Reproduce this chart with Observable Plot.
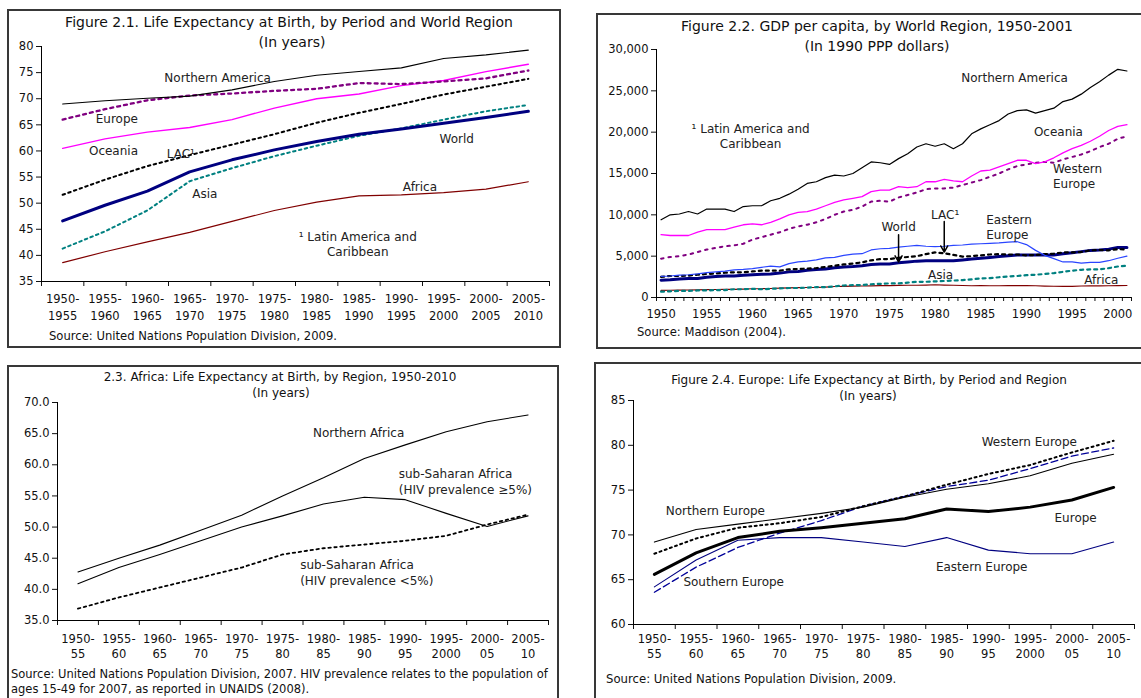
<!DOCTYPE html>
<html><head><meta charset="utf-8">
<script src="https://cdn.jsdelivr.net/npm/d3@7"></script>
<script src="https://cdn.jsdelivr.net/npm/@observablehq/plot@0.6"></script>
<style>
body{margin:0;background:#fff;}
#root{position:relative;width:1141px;height:698px;overflow:hidden;font-family:"DejaVu Sans",Verdana,sans-serif;color:#111;}
.panel{position:absolute;border:2px solid #383838;box-sizing:border-box;}
.t{position:absolute;white-space:pre;line-height:1.3;z-index:2;}
.plot{position:absolute;z-index:1;}
</style></head>
<body><div id="root"></div>
<script>
// ---------- DATA ----------
const periodsLong = ["1950-\n1955","1955-\n1960","1960-\n1965","1965-\n1970","1970-\n1975","1975-\n1980","1980-\n1985","1985-\n1990","1990-\n1995","1995-\n2000","2000-\n2005","2005-\n2010"];
const periodsShort = ["1950-\n55","1955-\n60","1960-\n65","1965-\n70","1970-\n75","1975-\n80","1980-\n85","1985-\n90","1990-\n95","1995-\n2000","2000-\n05","2005-\n10"];

// Figure 2.1 life expectancy (years)
const le_northernAmerica = [69.0,69.6,70.1,70.5,71.7,73.3,74.5,75.2,75.9,77.7,78.4,79.3];
const le_europe         = [66.0,68.0,69.7,70.6,71.0,71.5,71.9,73.0,72.8,73.3,73.9,75.4];
const le_oceania        = [60.5,62.3,63.6,64.5,66.0,68.2,70.0,70.9,72.5,73.5,75.2,76.6];
const le_lac            = [51.6,54.5,57.1,59.2,61.2,63.2,65.4,67.3,69.0,70.8,72.3,73.8];
const le_world          = [46.6,49.6,52.3,56.0,58.3,60.2,61.8,63.2,64.2,65.3,66.4,67.6];
const le_asia           = [41.3,44.6,48.6,54.2,56.7,59.0,61.0,62.9,64.3,66.0,67.6,68.8];
const le_africa         = [38.6,40.7,42.6,44.4,46.5,48.6,50.2,51.4,51.6,52.0,52.7,54.1];

// Figure 2.2 GDP per capita (1990 PPP dollars)
const years = [1950,1951,1952,1953,1954,1955,1956,1957,1958,1959,1960,1961,1962,1963,1964,1965,1966,1967,1968,1969,1970,1971,1972,1973,1974,1975,1976,1977,1978,1979,1980,1981,1982,1983,1984,1985,1986,1987,1988,1989,1990,1991,1992,1993,1994,1995,1996,1997,1998,1999,2000,2001];
const yearLabels = [1950,1955,1960,1965,1970,1975,1980,1985,1990,1995,2000];
const gdp_northernAmerica = [9400,10000,10100,10400,10100,10700,10700,10700,10400,11000, 11100,11100,11700,12000,12500,13100,13800,14000,14500,14800, 14700,15000,15700,16400,16300,16100,16800,17400,18200,18600, 18300,18600,18000,18600,19800,20400,20900,21400,22200,22600, 22700,22300,22600,22900,23700,24000,24600,25400,26100,26900, 27600,27400];
const gdp_oceania = [7600,7500,7500,7500,7900,8200,8200,8200,8500,8800, 8900,8800,9100,9500,10000,10300,10400,10700,11100,11500, 11800,12000,12200,12800,13000,13000,13400,13300,13400,14000, 14000,14300,14100,14000,14700,15300,15400,15800,16200,16600, 16600,16200,16400,16900,17500,18000,18400,18900,19500,20200, 20700,20900];
const gdp_westernEurope = [4700,4900,5000,5200,5500,5800,6000,6200,6300,6500, 7000,7300,7600,7900,8300,8600,8800,9100,9500,10000, 10400,10600,11000,11600,11700,11600,12100,12400,12700,13100, 13200,13200,13300,13600,13900,14200,14600,15000,15500,15900, 16100,16300,16400,16300,16700,17000,17300,17700,18200,18600, 19200,19500];
const gdp_easternEurope = [2550,2600,2700,2750,2850,3000,3100,3200,3350,3400, 3500,3650,3800,3700,4100,4300,4400,4550,4800,4850, 5100,5250,5300,5750,5900,5950,6100,6200,6300,6200, 6150,6200,6300,6350,6450,6500,6550,6600,6700,6750, 6400,5700,5100,4700,4300,4300,4150,4250,4250,4450, 4750,5000];
const gdp_world = [2100,2150,2250,2300,2300,2450,2550,2600,2600,2700, 2750,2800,2850,2950,3100,3150,3300,3400,3450,3600, 3700,3750,3850,4000,4050,4050,4200,4300,4400,4450, 4450,4450,4450,4550,4650,4750,4850,4950,5050,5150, 5150,5150,5150,5150,5300,5400,5550,5700,5750,5850, 6050,6050];
const gdp_lac = [2500,2600,2600,2650,2750,2850,2900,3000,3050,3050, 3150,3250,3250,3250,3400,3450,3500,3550,3700,3850, 4000,4100,4250,4500,4650,4650,4800,4900,5000,5250, 5450,5350,5150,4950,5000,5100,5200,5250,5200,5200, 5100,5150,5250,5300,5450,5450,5500,5700,5750,5700, 5850,5800];
const gdp_asia = [700,750,800,800,850,850,900,900,1000,1000, 1050,1000,1050,1100,1150,1150,1200,1250,1250,1350, 1450,1500,1500,1600,1650,1700,1700,1800,1900,1900, 1950,2000,2050,2100,2200,2300,2350,2450,2550,2600, 2700,2750,2850,2950,3100,3250,3350,3400,3400,3550, 3750,3850];
const gdp_africa = [850,880,900,910,930,950,970,980,980,1010, 1060,1060,1090,1140,1170,1200,1210,1220,1260,1330, 1350,1380,1390,1410,1440,1430,1470,1480,1480,1500, 1540,1500,1480,1450,1420,1430,1420,1420,1440,1440, 1440,1420,1380,1360,1340,1350,1390,1400,1410,1420, 1440,1450];

// Figure 2.3 Africa life expectancy
const af_northern = [42.8,45.0,47.1,49.5,51.9,55.0,57.9,61.0,63.2,65.3,66.9,68.0];
const af_ssaHigh  = [40.9,43.5,45.6,47.8,50.0,51.8,53.7,54.8,54.4,52.2,50.1,51.8];
const af_ssaLow   = [36.9,38.7,40.3,41.9,43.5,45.6,46.6,47.2,47.8,48.6,50.4,52.0];

// Figure 2.4 Europe life expectancy
const eu_northern = [69.2,70.6,71.2,71.8,72.4,73.1,74.2,75.1,75.7,76.6,78.0,79.0];
const eu_western  = [67.9,69.6,70.8,71.3,72.0,73.2,74.3,75.6,76.8,77.8,79.2,80.5];
const eu_southern = [63.6,66.4,68.6,70.2,71.6,73.2,74.3,75.4,76.1,77.4,78.8,79.7];
const eu_europe   = [65.6,68.0,69.7,70.4,70.8,71.3,71.8,72.9,72.6,73.1,73.9,75.3];
const eu_eastern  = [64.2,67.2,69.4,69.7,69.7,69.2,68.7,69.7,68.3,67.9,67.9,69.2];

// ---------- ANNOTATIONS (data coordinates) ----------
const labels1 = [
  {text:"Northern America", x:3.66, y:74.1},
  {text:"Europe", x:1.28, y:66.4},
  {text:"Oceania", x:1.2, y:60.1},
  {text:"LAC\u00B9", x:2.79, y:59.7},
  {text:"Asia", x:3.36, y:52.0},
  {text:"World", x:9.31, y:62.4},
  {text:"Africa", x:8.44, y:53.2},
  {text:"\u00B9 Latin America and\nCaribbean", x:6.97, y:42.3}
];
const labels2c = [
  {text:"Northern America", x:1988.7, y:26620},
  {text:"Oceania", x:1993.5, y:20090},
  {text:"\u00B9 Latin America and\nCaribbean", x:1959.8, y:19600},
  {text:"World", x:1976.0, y:8590},
  {text:"LAC\u00B9", x:1981.1, y:10160},
  {text:"Asia", x:1980.6, y:2900},
  {text:"Africa", x:1998.2, y:2180}
];
const labels2l = [
  {text:"Western\nEurope", x:1992.9, y:14760},
  {text:"Eastern\nEurope", x:1985.6, y:8590}
];
const arrows2 = [
  {x:1976, y1:7600, y2:4300},
  {x:1981, y1:9200, y2:5500}
];
const labels3c = [
  {text:"Northern Africa", x:6.86, y:65.07}
];
const labels3l = [
  {text:"sub-Saharan Africa\n(HIV prevalence \u22655%)", x:7.84, y:57.4},
  {text:"sub-Saharan Africa\n(HIV prevalence <5%)", x:5.43, y:42.8}
];
const labels4 = [
  {text:"Northern Europe", x:1.46, y:72.6},
  {text:"Western Europe", x:8.98, y:80.4},
  {text:"Europe", x:10.09, y:71.9},
  {text:"Eastern Europe", x:7.84, y:66.4},
  {text:"Southern Europe", x:1.9, y:64.7}
];

// ---------- HELPERS ----------
const root = document.getElementById("root");
const FONT = "'DejaVu Sans', Verdana, sans-serif";
function box(l,t,w,h){const d=document.createElement("div");d.className="panel";Object.assign(d.style,{left:l+"px",top:t+"px",width:w+"px",height:h+"px"});root.appendChild(d);}
function put(txt,x,y,size,align){const d=document.createElement("div");d.className="t";d.textContent=txt;
  d.style.left=x+"px";d.style.top=y+"px";d.style.fontSize=size+"px";
  d.style.transform = align==="left" ? "translate(0,-50%)" : "translate(-50%,-50%)";
  d.style.textAlign = align==="left" ? "left" : "center";
  root.appendChild(d);}
function mount(svg,l,t){const d=document.createElement("div");d.className="plot";d.style.left=l+"px";d.style.top=t+"px";d.appendChild(svg);root.appendChild(d);}
const idx = (arr)=>arr.map((d,i)=>i);
function ser(vals, xs){return vals.map((v,i)=>({x:xs[i], v}));}
const baseStyle = {fontFamily:FONT, fontSize:"11.5px", background:"transparent", overflow:"visible", maxWidth:"none", color:"#111"};
const bandTicks = d3.range(0,13).map(i=>i-0.5);

// ---------- PANEL BOXES ----------
box(7,9,554,339);
box(596,13,560,336);
box(7,365,552,345);
box(594,362,560,350);

// ---------- FIGURE 2.1 ----------
{
  const xs = idx(periodsLong);
  const svg = Plot.plot({
    width:550, height:330, marginLeft:33, marginTop:34, marginRight:9, marginBottom:61,
    style: baseStyle,
    x:{domain:[-0.5,11.5], ticks:bandTicks, tickFormat:()=>"", tickSize:5, label:null},
    y:{domain:[35,80], ticks:d3.range(35,81,5), tickSize:5, tickPadding:3, label:null},
    marks:[
      Plot.ruleX([-0.5],{stroke:"#000"}),
      Plot.ruleY([35],{stroke:"#000"}),
      Plot.line(ser(le_africa,xs),{x:"x",y:"v",stroke:"#800000",strokeWidth:1.2}),
      Plot.line(ser(le_asia,xs),{x:"x",y:"v",stroke:"#008080",strokeWidth:2,strokeDasharray:"2.5,3.5"}),
      Plot.line(ser(le_lac,xs),{x:"x",y:"v",stroke:"#000",strokeWidth:2,strokeDasharray:"2.5,3.5"}),
      Plot.line(ser(le_oceania,xs),{x:"x",y:"v",stroke:"#ff00ff",strokeWidth:1.4}),
      Plot.line(ser(le_europe,xs),{x:"x",y:"v",stroke:"#800080",strokeWidth:2.3,strokeDasharray:"3,4"}),
      Plot.line(ser(le_northernAmerica,xs),{x:"x",y:"v",stroke:"#000",strokeWidth:1.1}),
      Plot.line(ser(le_world,xs),{x:"x",y:"v",stroke:"#000080",strokeWidth:3}),
      Plot.text(labels1,{x:"x",y:"y",text:"text",fontSize:12,fill:"#222",lineHeight:1.3}),
      Plot.text(periodsLong,{x:(d,i)=>i,text:d=>d,frameAnchor:"bottom",lineAnchor:"top",dy:10,fontSize:11.5,lineHeight:1.45,fill:"#111"})
    ]
  });
  mount(svg,8,12);
  put("Figure 2.1. Life Expectancy at Birth, by Period and World Region",289,22,14);
  put("(In years)",292,42,14);
  put("Source: United Nations Population Division, 2009.",49,337,11.6,"left");
}

// ---------- FIGURE 2.2 ----------
{
  const svg = Plot.plot({
    width:540, height:320, marginLeft:58, marginTop:33, marginRight:7, marginBottom:39,
    style: baseStyle,
    x:{domain:[1949.5,2001.5], ticks:years.map(y=>y-0.5).concat([2001.5]), tickFormat:()=>"", tickSize:4, label:null},
    y:{domain:[0,30000], ticks:d3.range(0,30001,5000), tickFormat:d3.format(","), tickSize:5, tickPadding:3, label:null},
    marks:[
      Plot.ruleX([1949.5],{stroke:"#000"}),
      Plot.ruleY([0],{stroke:"#000"}),
      Plot.line(ser(gdp_africa,years),{x:"x",y:"v",stroke:"#800000",strokeWidth:1.2}),
      Plot.line(ser(gdp_asia,years),{x:"x",y:"v",stroke:"#008080",strokeWidth:2.2,strokeDasharray:"3,4"}),
      Plot.line(ser(gdp_world,years),{x:"x",y:"v",stroke:"#000080",strokeWidth:3}),
      Plot.line(ser(gdp_lac,years),{x:"x",y:"v",stroke:"#000",strokeWidth:2.2,strokeDasharray:"3,4"}),
      Plot.line(ser(gdp_easternEurope,years),{x:"x",y:"v",stroke:"#2a45ff",strokeWidth:1.2}),
      Plot.line(ser(gdp_westernEurope,years),{x:"x",y:"v",stroke:"#800080",strokeWidth:2,strokeDasharray:"2.5,5"}),
      Plot.line(ser(gdp_oceania,years),{x:"x",y:"v",stroke:"#ff00ff",strokeWidth:1.3}),
      Plot.line(ser(gdp_northernAmerica,years),{x:"x",y:"v",stroke:"#000",strokeWidth:1.2}),
      Plot.arrow(arrows2,{x:"x",y1:"y1",y2:"y2",stroke:"#000",strokeWidth:1.5,headLength:7}),
      Plot.text(labels2c,{x:"x",y:"y",text:"text",fontSize:12,fill:"#222",lineHeight:1.3}),
      Plot.text(labels2l,{x:"x",y:"y",text:"text",fontSize:12,fill:"#222",lineHeight:1.3,textAnchor:"start"}),
      Plot.text(yearLabels,{x:d=>d,text:d=>String(d),frameAnchor:"bottom",lineAnchor:"top",dy:12,fontSize:11.5,fill:"#111"})
    ]
  });
  mount(svg,598,16);
  put("Figure 2.2. GDP per capita, by World Region, 1950-2001",877,26,14);
  put("(In 1990 PPP dollars)",877,46,14);
  put("Source: Maddison (2004).",637,333,11.6,"left");
}

// ---------- FIGURE 2.3 ----------
{
  const xs = idx(periodsShort);
  const svg = Plot.plot({
    width:550, height:320, marginLeft:49, marginTop:34, marginRight:10, marginBottom:68,
    style: baseStyle,
    x:{domain:[-0.5,11.5], ticks:bandTicks, tickFormat:()=>"", tickSize:5, label:null},
    y:{domain:[35,70], ticks:d3.range(35,71,5), tickFormat:d3.format(".1f"), tickSize:5, tickPadding:3, label:null},
    marks:[
      Plot.ruleX([-0.5],{stroke:"#000"}),
      Plot.ruleY([35],{stroke:"#000"}),
      Plot.line(ser(af_ssaLow,xs),{x:"x",y:"v",stroke:"#000",strokeWidth:1.8,strokeDasharray:"2.5,3.5"}),
      Plot.line(ser(af_ssaHigh,xs),{x:"x",y:"v",stroke:"#000",strokeWidth:1.1}),
      Plot.line(ser(af_northern,xs),{x:"x",y:"v",stroke:"#000",strokeWidth:1.1}),
      Plot.text(labels3c,{x:"x",y:"y",text:"text",fontSize:12,fill:"#222"}),
      Plot.text(labels3l,{x:"x",y:"y",text:"text",textAnchor:"start",fontSize:12,fill:"#222",lineHeight:1.35}),
      Plot.text(periodsShort,{x:(d,i)=>i,text:d=>d,frameAnchor:"bottom",lineAnchor:"top",dy:11,fontSize:11.5,lineHeight:1.35,fill:"#111"})
    ]
  });
  mount(svg,8,368);
  put("2.3. Africa: Life Expectancy at Birth, by Region, 1950-2010",280,378,12);
  put("(In years)",281,394,12);
  put("Source: United Nations Population Division, 2007. HIV prevalence relates to the population of\nages 15-49 for 2007, as reported in UNAIDS (2008).",11,682,11.5,"left");
}

// ---------- FIGURE 2.4 ----------
{
  const xs = idx(periodsShort);
  const svg = Plot.plot({
    width:545, height:320, marginLeft:37, marginTop:35, marginRight:7, marginBottom:61,
    style: baseStyle,
    x:{domain:[-0.5,11.5], ticks:bandTicks, tickFormat:()=>"", tickSize:5, label:null},
    y:{domain:[60,85], ticks:d3.range(60,86,5), tickSize:5, tickPadding:3, label:null},
    marks:[
      Plot.ruleX([-0.5],{stroke:"#000"}),
      Plot.ruleY([60],{stroke:"#000"}),
      Plot.line(ser(eu_eastern,xs),{x:"x",y:"v",stroke:"#000080",strokeWidth:1.1}),
      Plot.line(ser(eu_southern,xs),{x:"x",y:"v",stroke:"#000099",strokeWidth:1.3,strokeDasharray:"7,3.5"}),
      Plot.line(ser(eu_western,xs),{x:"x",y:"v",stroke:"#000",strokeWidth:2,strokeDasharray:"2,3.5"}),
      Plot.line(ser(eu_northern,xs),{x:"x",y:"v",stroke:"#000",strokeWidth:1.1}),
      Plot.line(ser(eu_europe,xs),{x:"x",y:"v",stroke:"#000",strokeWidth:3}),
      Plot.text(labels4,{x:"x",y:"y",text:"text",fontSize:12,fill:"#222"}),
      Plot.text(periodsShort,{x:(d,i)=>i,text:d=>d,frameAnchor:"bottom",lineAnchor:"top",dy:8,fontSize:11.5,lineHeight:1.3,fill:"#111"})
    ]
  });
  mount(svg,596,365);
  put("Figure 2.4. Europe: Life Expectancy at Birth, by Period and Region",869,381,12);
  put("(In years)",868,397,12);
  put("Source: United Nations Population Division, 2009.",606,680,11.7,"left");
}
</script>
</body></html>
